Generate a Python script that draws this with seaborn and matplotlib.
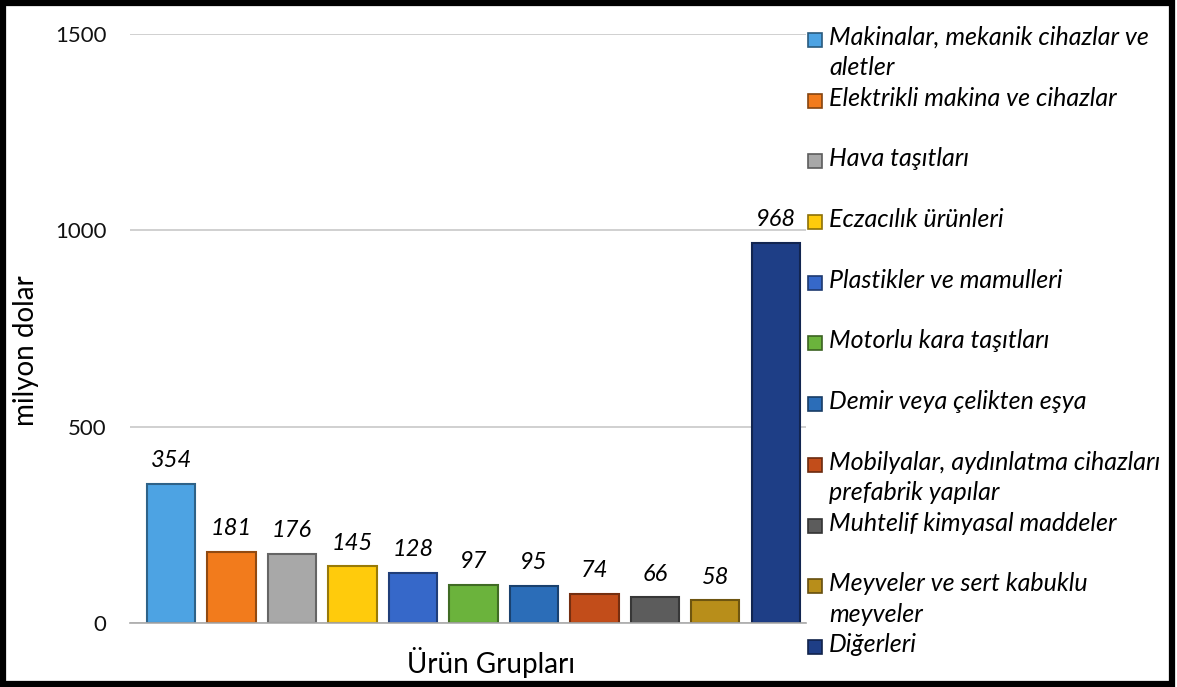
import matplotlib
matplotlib.use("Agg")
import matplotlib.pyplot as plt
import seaborn as sns
import pandas as pd
from matplotlib.patches import Rectangle
import matplotlib.colors as mcolors

categories = [
    "Makinalar, mekanik cihazlar ve\naletler",
    "Elektrikli makina ve cihazlar",
    "Hava taşıtları",
    "Eczacılık ürünleri",
    "Plastikler ve mamulleri",
    "Motorlu kara taşıtları",
    "Demir veya çelikten eşya",
    "Mobilyalar, aydınlatma cihazları\nprefabrik yapılar",
    "Muhtelif kimyasal maddeler",
    "Meyveler ve sert kabuklu\nmeyveler",
    "Diğerleri",
]
values = [354, 181, 176, 145, 128, 97, 95, 74, 66, 58, 968]
colors = ["#4DA3E3", "#F27B1C", "#A8A8A8", "#FFCB0C", "#3668C9", "#6BB33C",
          "#2B6DB8", "#C24D1A", "#5C5C5C", "#B88E1A", "#1E3E86"]
yticks = [0, 500, 1000, 1500]

sns.set_theme(style="white")
plt.rcParams["font.family"] = ["Lato", "DejaVu Sans"]

fig = plt.figure(figsize=(11.77, 6.87), dpi=100)
ax = fig.add_axes([130/1177, 1-623/687, 676/1177, (623-34)/687])

df = pd.DataFrame({"cat": categories, "val": values})
sns.barplot(data=df, x="cat", y="val", hue="cat", palette=colors, legend=False,
            width=0.8, ax=ax, saturation=1)

for patch, c in zip(ax.patches, colors):
    dark = tuple(v * 0.6 for v in mcolors.to_rgb(c))
    patch.set_edgecolor(dark)
    patch.set_linewidth(1.5)

for i, v in enumerate(values):
    ax.annotate(str(v), (i, v), xytext=(0, 9), textcoords="offset points",
                ha="center", va="bottom", fontsize=17, style="italic", color="#000000")

ax.set_xlim(-0.68, 10.5)
ax.set_ylim(0, 1500)
ax.set_yticks(yticks)
ax.set_yticklabels([str(t) for t in yticks], fontsize=16, color="#111111")
ax.tick_params(axis="y", length=0, pad=17)
ax.set_xticks([])
ax.set_xlabel("")
ax.set_ylabel("")
ax.yaxis.grid(True, color="#C8C8C8", linewidth=1.2)
ax.set_axisbelow(True)
for s in ["top", "right", "left"]:
    ax.spines[s].set_visible(False)
ax.spines["bottom"].set_color("#AAAAAA")
ax.spines["bottom"].set_linewidth(1.2)

fig.text(26/1177, 1-351/687, "milyon dolar", rotation=90, ha="center", va="center",
         fontsize=20, color="#000000")
fig.text(491/1177, 1-662/687, "Ürün Grupları", ha="center", va="center",
         fontsize=20, color="#000000")

# legend
top_px = 40
step_px = 60.7
for i, (lab, c) in enumerate(zip(categories, colors)):
    yc = top_px + i * step_px
    dark = tuple(v * 0.55 for v in mcolors.to_rgb(c))
    fig.patches.append(Rectangle((808/1177, 1-(yc+7)/687), 14/1177, 14/687,
                                 transform=fig.transFigure, facecolor=c,
                                 edgecolor=dark, linewidth=1.2))
    fig.text(829/1177, 1-(yc-14)/687, lab, ha="left", va="top", fontsize=18,
             style="italic", color="#000000", linespacing=1.38)

# frame
fig.patches.append(Rectangle((3/1177, 3/687), 1169/1177, 681/687, transform=fig.transFigure,
                             fill=False, edgecolor="black", linewidth=4.5))

fig.savefig("out.png", dpi=100)
